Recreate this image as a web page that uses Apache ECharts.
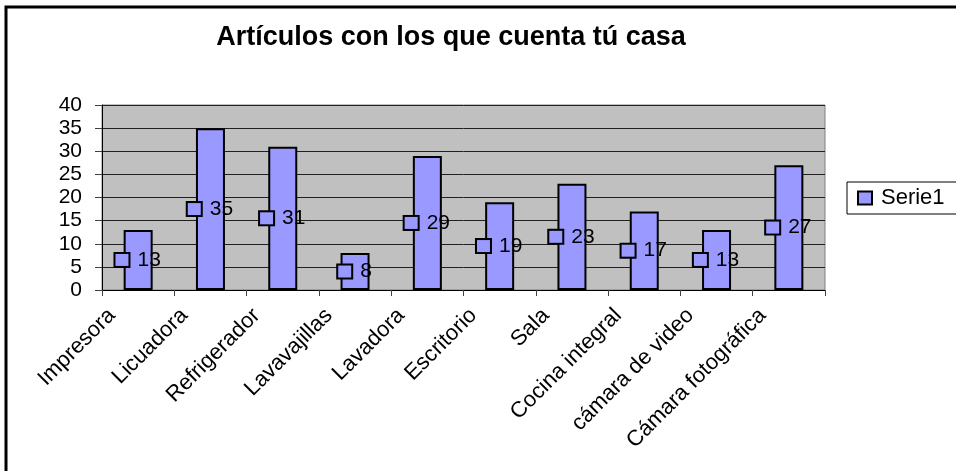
<!DOCTYPE html>
<html>
<head>
<meta charset="utf-8">
<script src="https://cdn.jsdelivr.net/npm/echarts@6/dist/echarts.min.js"></script>
<style>
  html, body { margin: 0; padding: 0; background: #fff; }
  #main { width: 956px; height: 471px; }
</style>
</head>
<body>
<div id="main"></div>
<script>
// datos
const categorias = ['Impresora', 'Licuadora', 'Refrigerador', 'Lavavajillas', 'Lavadora',
  'Escritorio', 'Sala', 'Cocina integral', 'cámara de video', 'Cámara fotográfica'];
const serie1 = [13, 35, 31, 8, 29, 19, 23, 17, 13, 27];
const yTicks = { min: 0, max: 40, step: 5 };

const font = 'Liberation Sans, Arial, sans-serif';
const chart = echarts.init(document.getElementById('main'));

chart.setOption({
  animation: false,
  backgroundColor: '#fff',
  title: {
    text: 'Artículos con los que cuenta tú casa',
    left: 446,
    top: 19,
    textAlign: 'center',
    textStyle: { fontFamily: font, fontSize: 27, fontWeight: 'bold', color: '#000' }
  },
  // marco exterior (solo se ven los lados izquierdo y superior)
  graphic: [{
    type: 'rect',
    shape: { x: 6, y: 7, width: 1200, height: 1200 },
    style: { fill: 'none', stroke: '#000', lineWidth: 3 },
    silent: true
  }],
  legend: {
    left: 847,
    top: 182,
    orient: 'vertical',
    padding: [5, 20, 5, 10],
    borderColor: '#000',
    borderWidth: 1,
    backgroundColor: '#fff',
    itemWidth: 14,
    itemHeight: 13,
    icon: 'rect',
    textStyle: { fontFamily: font, fontSize: 22, color: '#000', padding: [0, 0, 0, 4] },
    data: ['Serie1']
  },
  grid: {
    left: 102,
    right: 131,
    top: 105,
    bottom: 181,
    show: true,
    backgroundColor: '#C0C0C0',
    borderColor: '#808080',
    borderWidth: 1
  },
  xAxis: {
    type: 'category',
    data: categorias,
    boundaryGap: true,
    axisLine: { lineStyle: { color: '#000', width: 1 } },
    axisTick: { show: true, length: 6, lineStyle: { color: '#404040' } },
    axisLabel: {
      interval: 0,
      rotate: 45,
      margin: -4,
      padding: [0, 37, 0, 0],
      fontFamily: font,
      fontSize: 22,
      color: '#000'
    }
  },
  yAxis: {
    type: 'value',
    min: yTicks.min,
    max: yTicks.max,
    interval: yTicks.step,
    axisLine: { show: true, lineStyle: { color: '#000', width: 1 } },
    axisTick: { show: true, length: 7, lineStyle: { color: '#404040' } },
    axisLabel: { margin: 20, fontFamily: font, fontSize: 21, color: '#000' },
    splitLine: { lineStyle: { color: '#202020', width: 1 } }
  },
  series: [{
    name: 'Serie1',
    type: 'bar',
    data: serie1,
    barWidth: 29,
    itemStyle: { color: '#9999FF', borderColor: '#000', borderWidth: 2 },
    label: {
      show: true,
      position: 'inside',
      formatter: p => '{sq|}{v|' + p.value + '}',
      rich: {
        sq: {
          width: 13, height: 12,
          backgroundColor: '#9999FF',
          borderColor: '#000',
          borderWidth: 2
        },
        v: { fontFamily: font, fontSize: 21, color: '#000', padding: [0, 0, 0, 9] }
      }
    }
  }]
});
</script>
</body>
</html>
